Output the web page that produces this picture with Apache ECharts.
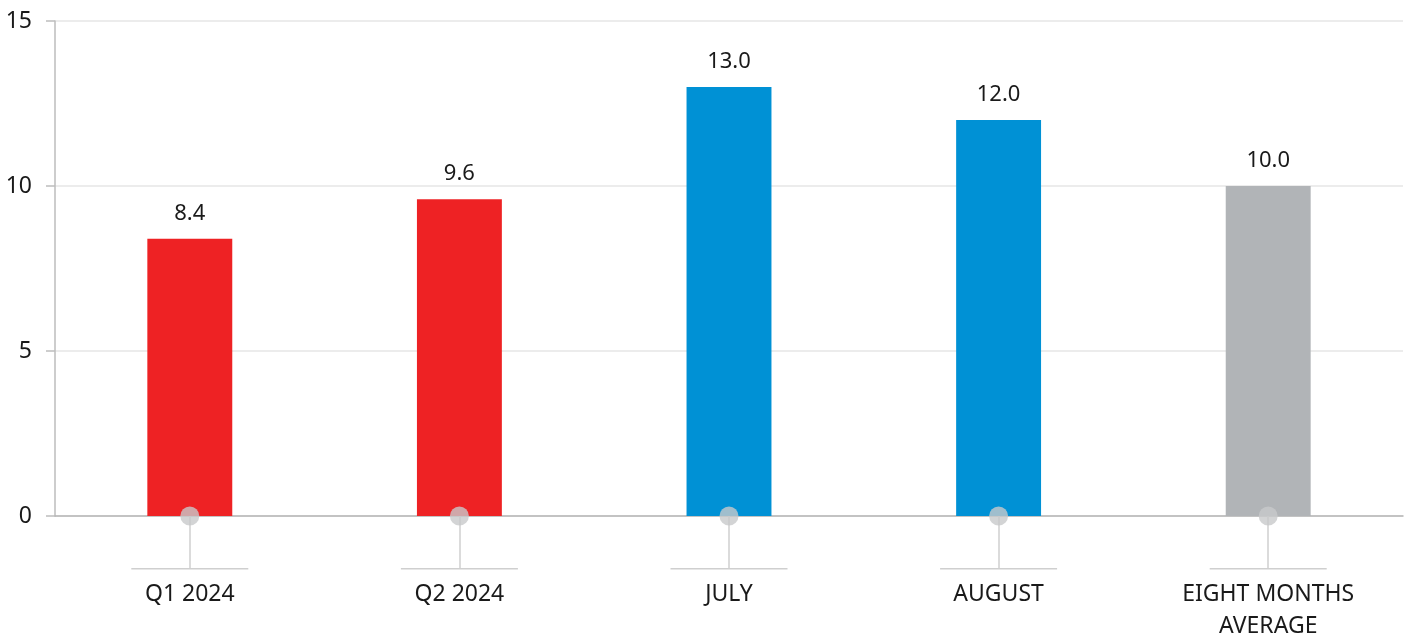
<!DOCTYPE html>
<html>
<head>
<meta charset="utf-8">
<script src="https://cdn.jsdelivr.net/npm/echarts@6/dist/echarts.min.js"></script>
<style>
  html, body { margin: 0; padding: 0; background: #fff; }
  #chart { width: 1407px; height: 638px; }
</style>
</head>
<body>
<div id="chart"></div>
<script>
// chart data
const categories = ["Q1 2024", "Q2 2024", "JULY", "AUGUST", "EIGHT MONTHS\nAVERAGE"];
const values = [8.4, 9.6, 13.0, 12.0, 10.0];
const yTicks = [0, 5, 10, 15];

const barColors = ["#ee2224", "#ee2224", "#0091d5", "#0091d5", "#b1b4b7"];
const fontFamily = "'Noto Sans', sans-serif";

const chart = echarts.init(document.getElementById("chart"));

const option = {
  animation: false,
  grid: { left: 55, right: 4, top: 21, bottom: 121 },
  xAxis: {
    type: "category",
    data: categories,
    axisLine: { lineStyle: { color: "#b5b5b5", width: 1.5 } },
    axisTick: { show: true, alignWithLabel: true, length: 52, lineStyle: { color: "#cfcfcf", width: 1.5 } },
    axisLabel: {
      margin: 52,
      interval: 0,
      formatter: function (v) {
        const lines = v.split("\n").map(function (s) { return "{t|" + s + "}"; });
        return "{l|}\n{s|}\n" + lines.join("\n");
      },
      rich: {
        l: { width: 117, height: 1.5, lineHeight: 1.5, backgroundColor: "#cfcfcf" },
        s: { lineHeight: 9, height: 9 },
        t: { fontSize: 23, lineHeight: 32, color: "#1a1a1a", fontFamily: fontFamily }
      }
    }
  },
  yAxis: {
    type: "value",
    min: yTicks[0],
    max: yTicks[yTicks.length - 1],
    interval: 5,
    axisLine: { show: true, lineStyle: { color: "#bdbdbd", width: 1.5 } },
    axisTick: { show: true, length: 9, lineStyle: { color: "#bdbdbd", width: 1.5 } },
    axisLabel: { fontSize: 23, color: "#1a1a1a", margin: 23, fontFamily: fontFamily },
    splitLine: { lineStyle: { color: "#e6e6e6", width: 1.5 } }
  },
  series: [
    {
      type: "bar",
      barWidth: "31.5%",
      data: values.map(function (v, i) {
        return { value: v, itemStyle: { color: barColors[i] } };
      }),
      label: {
        show: true,
        position: "top",
        distance: 14,
        fontSize: 22,
        color: "#1a1a1a",
        fontFamily: fontFamily,
        formatter: function (p) { return p.value.toFixed(1); }
      }
    },
    {
      type: "scatter",
      data: categories.map(function () { return 0; }),
      symbol: "circle",
      symbolSize: 19,
      clip: false,
      z: 5,
      itemStyle: { color: "#c8c9cb" },
      silent: true
    }
  ]
};

chart.setOption(option);
</script>
</body>
</html>
